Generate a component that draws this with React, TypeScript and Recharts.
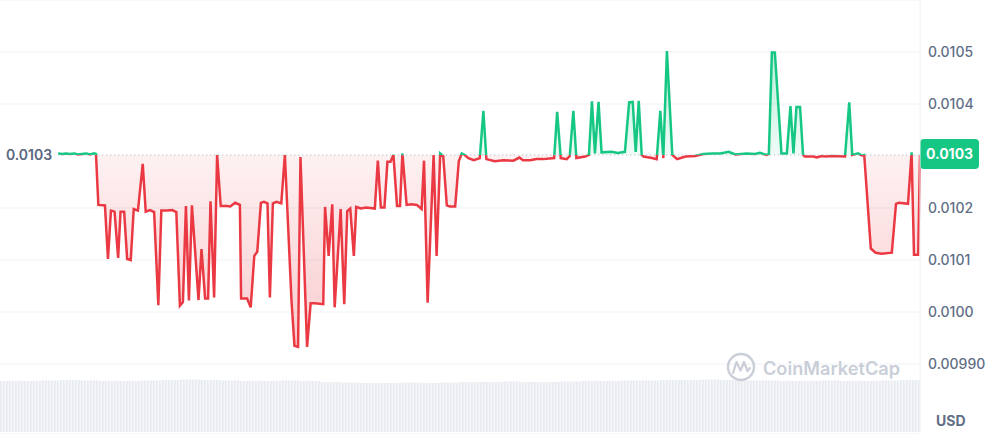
import React from 'react';
import { ComposedChart, Area, XAxis, YAxis, CartesianGrid, ReferenceLine, BarChart, Bar } from 'recharts';

// minutes since the start of the day
const times = [
  0, 7, 13, 20, 27, 33, 40, 47, 53, 60, 63, 67, 78, 83, 88, 94, 100, 104, 110, 115,
  121, 126, 133, 141, 146, 153, 160, 167, 172, 182, 190, 197, 203, 208, 213, 218, 223, 234, 239, 245,
  250, 254, 260, 265, 271, 281, 287, 295, 303, 305, 315, 321, 327, 332, 338, 343, 349, 353, 358, 364,
  372, 378, 389, 394, 400, 404, 415, 421, 428, 442, 445, 451, 457, 461, 471, 477, 482, 487, 493, 497,
  505, 513, 528, 533, 538, 544, 549, 554, 559, 565, 570, 574, 581, 589, 598, 606, 610, 616, 626, 631,
  637, 642, 648, 653, 662, 668, 673, 678, 684, 693, 703, 709, 714, 728, 742, 759, 769, 775, 787, 798,
  809, 827, 832, 838, 848, 853, 859, 864, 879, 885, 890, 895, 901, 906, 923, 933, 945, 952, 958, 963,
  968, 973, 976, 990, 998, 1004, 1009, 1015, 1024, 1032, 1046, 1062, 1076, 1090, 1104, 1118, 1129, 1148, 1162, 1170,
  1181, 1185, 1190, 1195, 1206, 1215, 1221, 1226, 1231, 1237, 1242, 1245, 1259, 1265, 1273, 1280, 1290, 1312, 1319, 1324,
  1334, 1340, 1344, 1355, 1363, 1373, 1390, 1397, 1402, 1417, 1423, 1427, 1434, 1437,
];

const prices = [
  0.010305, 0.010304, 0.010305, 0.010304, 0.010305, 0.010303, 0.010304, 0.010305, 0.010303, 0.010305, 0.010304, 0.010206, 0.010205, 0.010102, 0.010195, 0.010193, 0.010104, 0.010193, 0.010193, 0.010102,
  0.0101, 0.010198, 0.010195, 0.010285, 0.010193, 0.010196, 0.010192, 0.010013, 0.010195, 0.010195, 0.010196, 0.010192, 0.010012, 0.010019, 0.010204, 0.010022, 0.010205, 0.010023, 0.010121, 0.010026,
  0.010026, 0.010213, 0.010028, 0.010302, 0.010204, 0.010204, 0.010203, 0.01021, 0.010206, 0.010026, 0.010026, 0.010009, 0.010108, 0.010116, 0.01021, 0.010212, 0.010209, 0.010028, 0.010209, 0.010212,
  0.010209, 0.010302, 0.010023, 0.009935, 0.009933, 0.010298, 0.009933, 0.010017, 0.010017, 0.010015, 0.010202, 0.010108, 0.010207, 0.010009, 0.010198, 0.010015, 0.010194, 0.010199, 0.010108, 0.010202,
  0.010199, 0.010201, 0.010199, 0.010291, 0.010201, 0.010201, 0.010289, 0.010289, 0.010302, 0.010204, 0.010204, 0.010305, 0.010206, 0.010207, 0.010206, 0.010198, 0.010291, 0.010018, 0.010302, 0.010108,
  0.010305, 0.0103, 0.010205, 0.010203, 0.010203, 0.01029, 0.010305, 0.010302, 0.010296, 0.010292, 0.010296, 0.010387, 0.010294, 0.01029, 0.010292, 0.010291, 0.010297, 0.010292, 0.010292, 0.010294,
  0.010294, 0.010296, 0.010385, 0.010296, 0.010294, 0.0103, 0.010387, 0.010296, 0.010299, 0.010302, 0.010405, 0.010305, 0.010404, 0.010307, 0.010308, 0.010306, 0.010308, 0.010403, 0.010404, 0.010308,
  0.010406, 0.010302, 0.010299, 0.010296, 0.010294, 0.010387, 0.010296, 0.010502, 0.010302, 0.010294, 0.010299, 0.0103, 0.010304, 0.010305, 0.010305, 0.010308, 0.010303, 0.010305, 0.010304, 0.010306,
  0.010302, 0.010304, 0.010499, 0.010499, 0.010305, 0.010305, 0.010396, 0.010305, 0.010394, 0.010394, 0.010302, 0.010299, 0.010299, 0.010297, 0.0103, 0.010299, 0.0103, 0.010299, 0.010403, 0.010302,
  0.010305, 0.010301, 0.010302, 0.010122, 0.010114, 0.010112, 0.010114, 0.010208, 0.01021, 0.010208, 0.010307, 0.01011, 0.01011, 0.010302,
];

const baselinePrice = 0.010302;
const lastPrice = 0.010302;
const priceTicks = [0.0099, 0.01, 0.0101, 0.0102, 0.0104, 0.0105];

// 24h volume, one value per slot
const volumes = [
  51, 51, 51.5, 52, 51.5, 51, 51, 51.5, 52, 52.5, 52, 51.5, 51, 51, 51.5, 51, 50, 49.5, 49, 49,
  49.5, 49, 49.5, 50, 50, 50.5, 50, 50, 50.5, 51, 51, 51.5, 51.5, 52, 52, 52.5, 52, 51.5, 51.5, 51,
  51, 51.5, 51, 51, 51.5, 52,
];

const priceData = times.map((t, i) => ({ t, price: prices[i] }));
const volumeData = volumes.map((v, i) => ({ slot: i, volume: v }));

const GREEN = '#16c784';
const RED = '#ea3943';
const fmt = (v: number) => v.toPrecision(3);

const maxP = Math.max(...prices);
const minP = Math.min(...prices);
const split = (maxP - baselinePrice) / (maxP - minP);

const BaseLabel = (props: any) => {
  const vb = props.viewBox || {};
  return (
    <text x={(vb.x ?? 58) - 6} y={vb.y ?? 155} textAnchor="end" dominantBaseline="central"
      fill="#58667e" fontSize={14} fontWeight={600} fontFamily="Inter">
      {fmt(baselinePrice)}
    </text>
  );
};

const Badge = (props: any) => {
  const vb = props.viewBox || {};
  const x = (vb.x ?? 0) + (vb.width ?? 920);
  const y = vb.y ?? 155;
  return (
    <g>
      <rect x={x} y={y - 16} width={59} height={30} rx={4} fill={GREEN} />
      <text x={x + 29.5} y={y - 1} textAnchor="middle" dominantBaseline="central" fill="#fff"
        fontSize={14} fontWeight={700} fontFamily="Inter">
        {fmt(lastPrice)}
      </text>
    </g>
  );
};

export default function App() {
  return (
    <div style={{ position: 'absolute', left: 0, top: 0, width: 994, height: 434, background: '#fff', fontFamily: 'Inter' }}>
      <div style={{ position: 'absolute', left: 0, top: 378 }}>
        <BarChart width={920} height={54} data={volumeData} margin={{ top: 0, right: 0, bottom: 0, left: 0 }} barCategoryGap={0}>
          <defs>
            <pattern id="volStripes" patternUnits="userSpaceOnUse" width="3" height="10">
              <rect x="0" y="0" width="3" height="10" fill="#f6f7f9" />
              <rect x="0" y="0" width="1.6" height="10" fill="#e8ebf0" />
            </pattern>
          </defs>
          <XAxis dataKey="slot" hide />
          <YAxis hide domain={[0, 54]} />
          <Bar dataKey="volume" fill="url(#volStripes)" isAnimationActive={false} />
        </BarChart>
      </div>
      <div style={{ position: 'absolute', left: 0, top: 0 }}>
        <ComposedChart width={994} height={434} data={priceData} margin={{ top: 0, right: 0, bottom: 0, left: 0 }}>
          <defs>
            <linearGradient id="strokeSplit" x1="0" y1="0" x2="0" y2="1">
              <stop offset={split} stopColor={GREEN} />
              <stop offset={split} stopColor={RED} />
            </linearGradient>
            <linearGradient id="fillSplit" x1="0" y1="0" x2="0" y2="1">
              <stop offset={0} stopColor={GREEN} stopOpacity={0.3} />
              <stop offset={split} stopColor={GREEN} stopOpacity={0.07} />
              <stop offset={split} stopColor={RED} stopOpacity={0.07} />
              <stop offset={1} stopColor={RED} stopOpacity={0.26} />
            </linearGradient>
          </defs>
          <CartesianGrid vertical={false} stroke="#eff2f5" />
          <XAxis type="number" dataKey="t" domain={[-97, 1437]} hide />
          <YAxis orientation="right" width={74} domain={[0.0097654, 0.0106]} ticks={priceTicks}
            tickFormatter={fmt} axisLine={{ stroke: '#eff2f5' }} tickLine={false}
            tick={{ fill: '#616e85', fontSize: 14, fontWeight: 500, fontFamily: 'Inter' }} />
          <ReferenceLine segment={[{ x: times[0], y: baselinePrice }, { x: times[times.length - 1], y: baselinePrice }]}
            stroke="#a6b0c3" strokeDasharray="1 3" label={<BaseLabel />} />
          <Area type="linear" dataKey="price" baseValue={baselinePrice} stroke="url(#strokeSplit)" strokeWidth={2.5}
            fill="url(#fillSplit)" fillOpacity={1} dot={false} activeDot={false} isAnimationActive={false} />
          <ReferenceLine y={lastPrice} strokeOpacity={0} label={<Badge />} />
        </ComposedChart>
      </div>
      <svg style={{ position: 'absolute', left: 724, top: 350 }} width={200} height={36}>
        <circle cx={17} cy={17} r={13} fill="none" stroke="#c9ced8" strokeWidth={2.4} />
        <path d="M9 23 L12.5 12 L16.5 20.5 L20 12 L23.5 21 L26 18" fill="none" stroke="#c9ced8" strokeWidth={2.2} strokeLinejoin="round" strokeLinecap="round" />
        <text x={39} y={25} fontSize={18} fontWeight={600} fill="#c9ced8" fontFamily="Inter" textLength={137} lengthAdjust="spacingAndGlyphs">CoinMarketCap</text>
      </svg>
      <div style={{ position: 'absolute', left: 936, top: 413, fontSize: 14, fontWeight: 700, color: '#616e85', lineHeight: '16px' }}>USD</div>
    </div>
  );
}
